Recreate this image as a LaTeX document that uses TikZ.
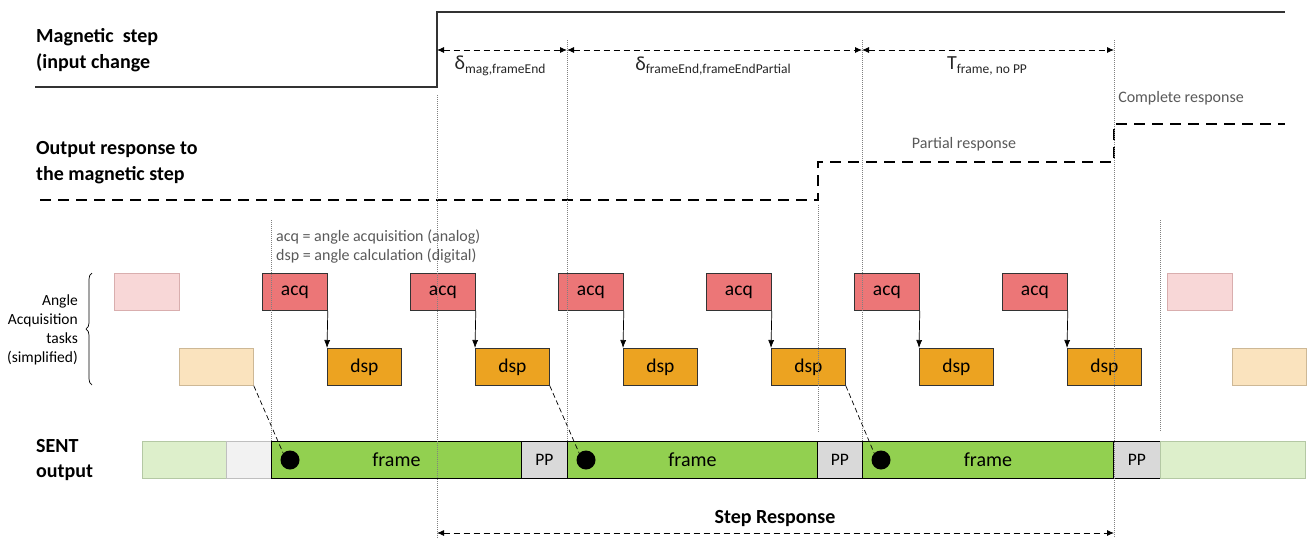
\documentclass[tikz,border=0pt]{standalone}
\usepackage{fontspec}
\setmainfont{Carlito}
\usetikzlibrary{arrows.meta,decorations.pathreplacing}
\definecolor{acqc}{HTML}{EC7677}
\definecolor{dspc}{HTML}{ECA321}
\definecolor{framec}{HTML}{92D050}
\definecolor{ppc}{HTML}{D9D9D9}
\definecolor{acqf}{HTML}{F8D7D7}
\definecolor{acqfb}{HTML}{D9AEAE}
\definecolor{dspf}{HTML}{FAE3BE}
\definecolor{dspfb}{HTML}{CDB896}
\definecolor{greenf}{HTML}{DDEFCB}
\definecolor{greenfb}{HTML}{B4C8A4}
\definecolor{greyf}{HTML}{F2F2F2}
\definecolor{greyfb}{HTML}{BFBFBF}
\definecolor{txtgrey}{HTML}{595959}
\definecolor{linec}{HTML}{333333}
\begin{document}
\begin{tikzpicture}[x=1pt,y=-1pt,
  taskbox/.style={draw=#1, line width=0.8pt, minimum height=37pt, inner sep=0pt, anchor=north west, font=\fontsize{19.5}{19.5}\selectfont},
  acqbox/.style={taskbox=black!80, fill=acqc, minimum width=65pt},
  dspbox/.style={taskbox=black!80, fill=dspc, minimum width=74pt},
  acqfade/.style={taskbox=acqfb, fill=acqf, minimum width=65pt},
  dspfade/.style={taskbox=dspfb, fill=dspf, minimum width=74pt},
  seg/.style={draw=black, line width=0.8pt, minimum height=37pt, inner sep=0pt, anchor=north west, font=\fontsize{20}{20}\selectfont},
  framebox/.style={seg, fill=framec},
  ppbox/.style={seg, fill=ppc, font=\fontsize{17.5}{17.5}\selectfont},
  heading/.style={anchor=west, align=left, font=\bfseries\fontsize{20}{25.5}\selectfont, inner sep=0pt},
  smalltxt/.style={text=txtgrey, font=\fontsize{16}{19}\selectfont},
  guide/.style={draw=gray, line width=0.6pt, dash pattern=on 1pt off 1pt},
  dimline/.style={line width=0.9pt, dash pattern=on 6pt off 4pt, {Latex[length=7pt,width=6pt]}-{Latex[length=7pt,width=6pt]}},
  link/.style={line width=0.7pt, dash pattern=on 5pt off 3pt},
  dotc/.style={circle, fill=black, minimum size=19pt, inner sep=0pt},
  dimlab/.style={font=\fontsize{20}{20}\selectfont, text=black!85}
]
\useasboundingbox (0,0) rectangle (1314,538);

% ---- headings
\node[heading] (hmag) at (36,50) {Magnetic\ \ step\\(input change};
\node[heading] (hout) at (36,162.5) {Output response to\\the magnetic step};
\node[heading] (hsent) at (36,460) {SENT\\output};
\node[anchor=east, align=right, font=\fontsize{15.5}{19}\selectfont, inner sep=0pt] (htask) at (78,330) {Angle\\Acquisition\\tasks\\(simplified)};
\draw[line width=0.7pt, decorate, decoration={brace, amplitude=6pt}] (92,385) -- (92,273);

% ---- magnetic step signal
\draw[linec, line width=1.4pt] (35,87) -- (437,87) -- (437,12) -- (1285,12);

% ---- output response signal
\draw[line width=1.4pt, dash pattern=on 11pt off 7pt] (40,200) -- (818,200) -- (818,162) -- (1114,162) -- (1114,124) -- (1285,124);
\node[smalltxt] (lpart) at (964,144) {Partial response};
\node[smalltxt] (lcomp) at (1181,98) {Complete response};

% ---- legend
\node[smalltxt, anchor=west, align=left, inner sep=0pt] (legend) at (276,246.5) {acq = angle acquisition (analog)\\dsp = angle calculation (digital)};

% ---- task boxes
\node[acqfade] (acqF0) at (114,273) {};
\node[acqfade] (acqF1) at (1167,273) {};
\node[dspfade] (dspF0) at (179,348) {};
\node[dspfade] (dspF1) at (1232,348) {};
\foreach \i in {0,...,5}{
  \node[acqbox] (acq\i) at ({262+148*\i},273) {acq};
  \node[dspbox] (dsp\i) at ({327+148*\i},348) {dsp};
  \draw[line width=0.7pt, -{Latex[length=8pt,width=6pt]}] (acq\i.south east) -- (dsp\i.north west);
}

% ---- SENT output
\node[seg, draw=greenfb, fill=greenf, minimum width=84pt] (s0) at (142,441) {};
\node[seg, draw=greyfb, fill=greyf, minimum width=45pt] (s1) at (226,441) {};
\node[framebox, minimum width=250pt] (f0) at (271,441) {frame};
\node[ppbox, minimum width=46pt] (pp0) at (521,441) {PP};
\node[framebox, minimum width=250pt] (f1) at (567,441) {frame};
\node[ppbox, minimum width=45pt] (pp1) at (817,441) {PP};
\node[framebox, minimum width=251pt] (f2) at (862,441) {frame};
\node[ppbox, minimum width=47pt] (pp2) at (1113,441) {PP};
\node[seg, draw=greenfb, fill=greenf, minimum width=145pt] (s2) at (1160,441) {};

\node[dotc] (dot0) at (290,460) {};
\node[dotc] (dot1) at (586,460) {};
\node[dotc] (dot2) at (881,460) {};
\draw[link] (dspF0.south east) -- (dot0.north west);
\draw[link] (dsp1.south east) -- (dot1.north west);
\draw[link] (dsp3.south east) -- (dot2.north west);

% ---- guides
\draw[guide] (437,95) -- (437,538);
\draw[guide] (567,40) -- (567,441);
\draw[guide] (862,40) -- (862,441);
\draw[guide] (1114,40) -- (1114,538);
\draw[guide] (271,220) -- (271,441);
\draw[guide] (818,205) -- (818,432);
\draw[guide] (1160,220) -- (1160,432);

% ---- dimension arrows
\coordinate (d0) at (437,50);
\coordinate (d1) at (567,50);
\coordinate (d2) at (862,50);
\coordinate (d3) at (1114,50);
\draw[dimline] (d0) -- (d1);
\draw[dimline] (d1) -- (d2);
\draw[dimline] (d2) -- (d3);
\node[dimlab] (lab0) at (500,66) {δ\raisebox{-3.5pt}{\fontsize{13.5}{13.5}\selectfont mag,frameEnd}};
\node[dimlab] (lab1) at (713,66) {δ\raisebox{-3.5pt}{\fontsize{13.5}{13.5}\selectfont frameEnd,frameEndPartial}};
\node[dimlab] (lab2) at (987,66) {T\raisebox{-3.5pt}{\fontsize{13.5}{13.5}\selectfont frame, no PP}};

\coordinate (r0) at (437,533);
\coordinate (r1) at (1114,533);
\draw[dimline] (r0) -- (r1);
\node[font=\bfseries\fontsize{20}{20}\selectfont, inner sep=0pt] (lstep) at (775,519) {Step Response};
\end{tikzpicture}
\end{document}
